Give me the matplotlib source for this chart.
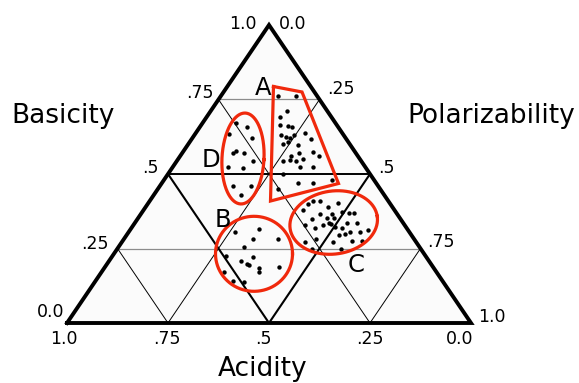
import numpy as np
import matplotlib
matplotlib.use("Agg")
import matplotlib.pyplot as plt

# ---- data: solvent-parameter clusters (basicity, polarizability); acidity = 1 - b - p
a_bas = [0.763, 0.762, 0.712, 0.692, 0.664, 0.661, 0.659, 0.631, 0.625, 0.620, 0.630,
         0.637, 0.601, 0.608, 0.598, 0.616, 0.572, 0.575, 0.560, 0.545, 0.547, 0.545,
         0.549, 0.523, 0.524, 0.560, 0.499, 0.471, 0.471, 0.480, 0.449]
a_pol = [0.140, 0.185, 0.189, 0.182, 0.195, 0.216, 0.227, 0.215, 0.230, 0.242, 0.246,
         0.271, 0.233, 0.244, 0.272, 0.295, 0.289, 0.321, 0.274, 0.261, 0.279, 0.295,
         0.309, 0.316, 0.348, 0.343, 0.286, 0.336, 0.374, 0.415, 0.299]

d_bas = [0.672, 0.659, 0.634, 0.621, 0.578, 0.570, 0.570, 0.545, 0.525, 0.519, 0.460,
         0.460, 0.430]
d_pol = [0.082, 0.115, 0.085, 0.148, 0.129, 0.125, 0.152, 0.187, 0.137, 0.177, 0.180,
         0.226, 0.215]

b_bas = [0.304, 0.314, 0.281, 0.283, 0.256, 0.225, 0.209, 0.199, 0.195, 0.221, 0.185,
         0.170, 0.188, 0.170, 0.142, 0.136]
b_pol = [0.265, 0.319, 0.319, 0.382, 0.310, 0.281, 0.327, 0.347, 0.354, 0.350, 0.383,
         0.391, 0.431, 0.303, 0.341, 0.369]

c_bas = [0.399, 0.409, 0.409, 0.379, 0.390, 0.402, 0.348, 0.365, 0.353, 0.366, 0.351,
         0.374, 0.368, 0.370, 0.329, 0.320, 0.329, 0.337, 0.331, 0.323, 0.318, 0.335,
         0.337, 0.306, 0.306, 0.312, 0.295, 0.273, 0.299, 0.276, 0.275, 0.273, 0.281,
         0.247, 0.247]
c_pol = [0.398, 0.405, 0.422, 0.394, 0.450, 0.469, 0.432, 0.444, 0.466, 0.472, 0.485,
         0.493, 0.515, 0.525, 0.425, 0.454, 0.470, 0.479, 0.487, 0.502, 0.521, 0.525,
         0.550, 0.547, 0.572, 0.590, 0.526, 0.521, 0.539, 0.567, 0.592, 0.453, 0.475,
         0.482, 0.554]

grid_vals = [0.25, 0.5, 0.75]
cluster_names = ["A", "B", "C", "D"]
axis_names = ["Basicity", "Polarizability", "Acidity"]
basicity_ticks = ["1.0", ".75", ".5", ".25", "0.0"]
polar_ticks = ["0.0", ".25", ".5", ".75", "1.0"]
acidity_ticks = ["1.0", ".75", ".5", ".25", "0.0"]

# ---- figure geometry: triangle base spans 404 px, height 298 px
W, H = 579, 383
X0, XB, YT, YB = 67, 471, 25, 323
SX, SY = XB - X0, YB - YT

fig = plt.figure(figsize=(W / 100, H / 100), dpi=100)
ax = fig.add_axes([0, 0, 1, 1])
ax.set_xlim(-X0 / SX, (W - X0) / SX)
ax.set_ylim((YB - H) / SY, YB / SY)
ax.axis("off")


def tern(b, p):
    b = np.asarray(b, dtype=float)
    p = np.asarray(p, dtype=float)
    return p + b / 2.0, b


# light fill of the triangle
ax.fill([0, 1, 0.5], [0, 0, 1], color="#fbfbfb", zorder=0, lw=0)

# grid lines
for v in grid_vals:
    mid = abs(v - 0.5) < 1e-9
    # constant basicity (horizontal)
    xs, ys = tern([v, v], [0, 1 - v])
    ax.plot(xs, ys, color="black" if mid else "#8c8c8c",
            lw=1.4 if mid else 0.9, zorder=1, solid_capstyle="butt")
    # constant polarizability
    xs, ys = tern([0, 1 - v], [v, v])
    ax.plot(xs, ys, color="black", lw=1.5 if mid else 0.7, zorder=1,
            solid_capstyle="butt")
    # constant acidity
    xs, ys = tern([0, 1 - v], [1 - v, 0])
    ax.plot(xs, ys, color="black", lw=1.5 if mid else 0.7, zorder=1,
            solid_capstyle="butt")

# outer triangle
ax.plot([0, 1, 0.5, 0], [0, 0, 1, 0], color="black", lw=2.8, zorder=3,
        solid_joinstyle="miter")

# data points
for bb, pp in [(a_bas, a_pol), (b_bas, b_pol), (c_bas, c_pol), (d_bas, d_pol)]:
    x, y = tern(bb, pp)
    ax.scatter(x, y, s=10, c="black", linewidths=0, zorder=4)

RED = "#f0290c"


def ring(cx, cy, w, h, ang=0.0):
    t = np.linspace(0, 2 * np.pi, 240)
    u, v = w / 2 * np.cos(t), h / 2 * np.sin(t)
    a = np.deg2rad(ang)
    X = u * np.cos(a) - v * np.sin(a)
    Y = u * np.sin(a) + v * np.cos(a)
    ax.plot(cx + X / SX, cy + Y / SY, color=RED, lw=2.3, zorder=5)


# cluster outlines
quad = np.array([(0.5111, 0.7936), (0.5817, 0.7752), (0.6720, 0.4681),
                 (0.5037, 0.4094), (0.5111, 0.7936)])
ax.plot(quad[:, 0], quad[:, 1], color=RED, lw=2.3, zorder=5,
        solid_joinstyle="miter")
ring(0.4356, 0.5520, 42, 91, -3)
ring(0.4629, 0.2322, 77, 75, 0)
ring(0.6601, 0.3372, 88, 63, 8)

# cluster letters
letter_pos = [(0.4864, 0.7651), (0.3849, 0.3211), (0.7153, 0.1728), (0.3564, 0.5235)]
for name, (x, y) in zip(cluster_names, letter_pos):
    ax.text(x, y, name, fontsize=17.5, ha="center", va="baseline", zorder=6)

# tick labels
tfs = 12.5
left_pos = [(0.4356, 0.9866), (0.3292, 0.7534), (0.2054, 0.5017), (0.0681, 0.2483),
            (-0.0396, 0.0185)]
for s, (x, y) in zip(basicity_ticks, left_pos):
    ax.text(x, y, s, fontsize=tfs, ha="center", va="baseline")
right_pos = [(0.5594, 0.9866), (0.6782, 0.7685), (0.7896, 0.5050), (0.9257, 0.2567),
             (1.0520, 0.0050)]
for s, (x, y) in zip(polar_ticks, right_pos):
    ax.text(x, y, s, fontsize=tfs, ha="center", va="baseline")
bottom_x = [-0.0074, 0.2475, 0.4851, 0.75, 0.9728]
for s, x in zip(acidity_ticks, bottom_x):
    ax.text(x, -0.0705, s, fontsize=tfs, ha="center", va="baseline")

# axis titles
afs = 19
ax.text(-0.0099, 0.6695, axis_names[0], fontsize=afs, ha="center", va="baseline")
ax.text(1.0507, 0.6701, axis_names[1], fontsize=afs, ha="center", va="baseline")
ax.text(0.4851, -0.1795, axis_names[2], fontsize=afs, ha="center", va="baseline")

fig.savefig("out.png", dpi=100, facecolor="white")
